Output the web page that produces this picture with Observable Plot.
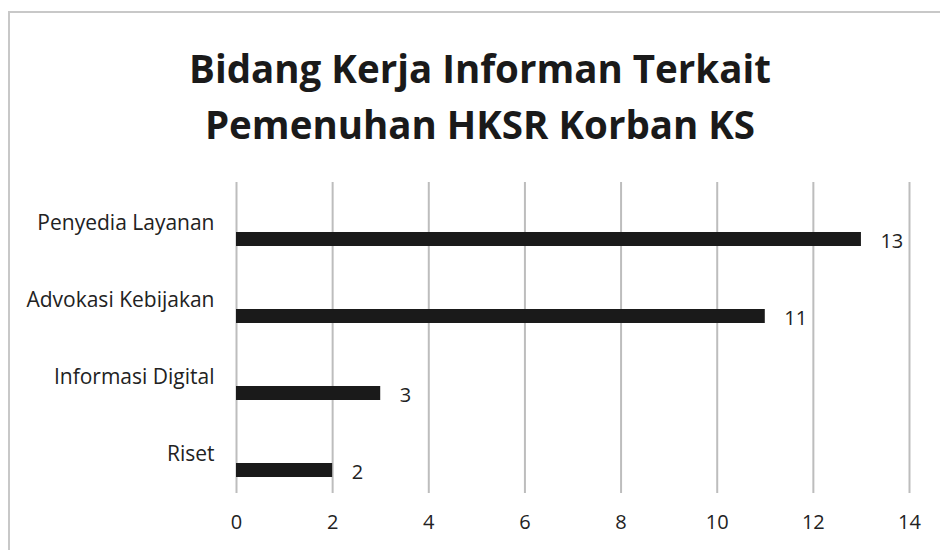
<!DOCTYPE html>
<html>
<head>
<meta charset="utf-8">
<script src="https://cdn.jsdelivr.net/npm/d3@7"></script>
<script src="https://cdn.jsdelivr.net/npm/@observablehq/plot@0.6"></script>
<style>
  html, body { margin: 0; padding: 0; background: #fff; }
  #wrap { position: relative; width: 940px; height: 550px; overflow: hidden; font-family: "Open Sans", sans-serif; }
  #frame { position: absolute; left: 8px; top: 11px; width: 1000px; height: 1000px; border-left: 2px solid #c8c8c8; border-top: 2px solid #c8c8c8; }
  #title { position: absolute; left: 0; top: 40px; width: 960px; text-align: center; font-weight: 700; font-size: 38.5px; line-height: 56px; color: #1a1a1a; }
  #chart { position: absolute; left: 0; top: 160px; }
</style>
</head>
<body>
<div id="wrap">
  <div id="frame"></div>
  <div id="title">Bidang Kerja Informan Terkait<br>Pemenuhan HKSR Korban KS</div>
  <div id="chart"></div>
</div>
<script>
const categories = ["Penyedia Layanan", "Advokasi Kebijakan", "Informasi Digital", "Riset"];
const values = [13, 11, 3, 2];
const xTicks = [0, 2, 4, 6, 8, 10, 12, 14];

const data = categories.map((c, i) => ({category: c, value: values[i]}));

const plot = Plot.plot({
  width: 940,
  height: 390,
  marginLeft: 236,
  marginRight: 31,
  marginTop: 22,
  marginBottom: 57,
  style: {fontFamily: "'Open Sans', sans-serif", fontSize: "20px", color: "#222", background: "transparent"},
  x: {domain: [0, 14], ticks: xTicks, tickSize: 0, tickPadding: 21, label: null},
  y: {domain: categories, padding: 0, tickSize: 0, tickPadding: 22, label: null},
  marks: [
    Plot.gridX(xTicks, {stroke: "#bdbdbd", strokeOpacity: 1, strokeWidth: 2}),
    Plot.barX(data, {x: "value", y: "category", fill: "#1a1a1a", insetTop: 48, insetBottom: 15}),
    Plot.text(data, {x: "value", y: "category", text: d => String(d.value), textAnchor: "start", dx: 19, dy: 19, fontSize: 20, fill: "#222"})
  ]
});
plot.querySelectorAll("[aria-label='y-axis tick label'] text, [aria-label='y-axis tick label']").forEach(g => g.setAttribute("font-size", "21"));
document.getElementById("chart").appendChild(plot);
</script>
</body>
</html>
